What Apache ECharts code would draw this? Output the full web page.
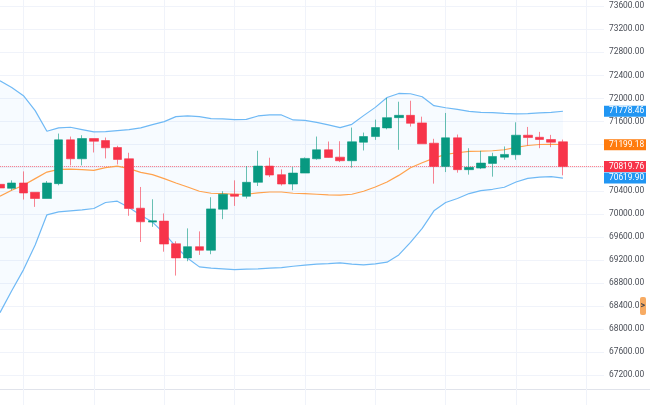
<!DOCTYPE html>
<html>
<head>
<meta charset="utf-8">
<style>
    html, body { margin: 0; padding: 0; background: #fff; }
    #chart { width: 650px; height: 405px; }
</style>
<script src="https://cdn.jsdelivr.net/npm/echarts@6/dist/echarts.min.js"></script>
</head>
<body>
<div id="chart"></div>
<script>
// [open, close, low, high]
var candles = [
    [70512, 70448, 70374, 70702], [70443, 70535, 70409, 70581], [70535, 70362, 70248, 70736],
    [70374, 70266, 70121, 70374], [70266, 70535, 70266, 70569], [70524, 71283, 70495, 71392],
    [71283, 70955, 70840, 71340], [70955, 71306, 70840, 71363], [71306, 71259, 71064, 71306],
    [71271, 71145, 70961, 71323], [71150, 70943, 70857, 71180], [70955, 70093, 69966, 71059],
    [70098, 69862, 69512, 70466], [69857, 69879, 69775, 70253], [69874, 69477, 69344, 70007],
    [69482, 69236, 68930, 69524], [69236, 69431, 69179, 69748], [69431, 69369, 69288, 69696],
    [69369, 70086, 69300, 70288], [70081, 70340, 69908, 70392], [70340, 70305, 70138, 70581],
    [70305, 70547, 70266, 70828], [70547, 70828, 70483, 71094], [70828, 70673, 70638, 70973],
    [70680, 70517, 70490, 70771], [70517, 70707, 70409, 70811], [70707, 70961, 70707, 70978],
    [70955, 71111, 70938, 71340], [71111, 70978, 70973, 71254], [70983, 70921, 70897, 71259],
    [70921, 71249, 70800, 71496], [71242, 71340, 71099, 71409], [71340, 71496, 71283, 71634],
    [71490, 71668, 71466, 72008], [71668, 71708, 71111, 71944], [71708, 71570, 71513, 71961],
    [71577, 71214, 71214, 71685], [71225, 70823, 70524, 71301], [70823, 71318, 70724, 71749],
    [71318, 70766, 70714, 71375], [70766, 70806, 70680, 71138], [70794, 70880, 70776, 71094],
    [70875, 70995, 70645, 71059], [70983, 71030, 70938, 71168], [71025, 71363, 70938, 71587],
    [71363, 71323, 71185, 71507], [71328, 71289, 71138, 71421], [71289, 71242, 71156, 71369],
    [71249, 70819.76, 70668, 71288]
];
var upperBand = [
    72306, 72191, 72048, 71789, 71432, 71490, 71501, 71461, 71421, 71426,
    71444, 71461, 71490, 71547, 71599, 71685, 71697, 71685, 71651, 71646,
    71634, 71639, 71697, 71715, 71715, 71628, 71621, 71587, 71542, 71496,
    71552, 71703, 71846, 72018, 72087, 72082, 72030, 71875, 71840, 71811,
    71777, 71759, 71754, 71742, 71732, 71737, 71749, 71759, 71778.46
];
var middleBand = [
    70305, 70409, 70495, 70611, 70724, 70771, 70776, 70766, 70754, 70800,
    70828, 70783, 70719, 70680, 70611, 70535, 70466, 70392, 70357, 70352,
    70340, 70340, 70362, 70379, 70379, 70357, 70352, 70340, 70328, 70323,
    70340, 70392, 70466, 70552, 70667, 70800, 70887, 70966, 71030, 71059,
    71082, 71087, 71094, 71111, 71151, 71185, 71202, 71207, 71199.18
];
var lowerBand = [
    68287, 68667, 69029, 69460, 69983, 70034, 70052, 70069, 70093, 70197,
    70219, 70110, 69977, 69857, 69662, 69431, 69231, 69081, 69058, 69046,
    69034, 69041, 69046, 69058, 69068, 69092, 69110, 69127, 69137, 69149,
    69127, 69115, 69132, 69162, 69288, 69506, 69748, 70052, 70197, 70266,
    70352, 70404, 70426, 70461, 70552, 70616, 70638, 70645, 70619.90
];
var yTicks = [
    67200, 67600, 68000, 68400, 68800, 69200, 69600, 70000, 70400, 70800, 71200,
    71600, 72000, 72400, 72800, 73200, 73600
];
var lastPrice = 70819.76;
var categories = [];
for (var i = 0; i < 52; i++) {
    categories.push(String(i));
}

var bandWidth = candles.map(function(c, i) {
    return upperBand[i] - lowerBand[i];
});

var green = '#089981';
var red = '#f7344a';
var blue = '#2196f3';
var orange = '#ff7b0d';

function priceTag(value, color) {
    return {
        yAxis: value,
        lineStyle: { width: 1, color: 'rgba(0,0,0,0)' },
        label: {
            show: true,
            position: 'end',
            distance: 0,
            formatter: value.toFixed(2),
            color: '#fff',
            backgroundColor: color,
            fontFamily: 'Roboto',
            fontSize: 8.4,
            align: 'left',
            verticalAlign: 'middle',
            width: 37,
            height: 11,
            lineHeight: 11,
            padding: [0, 0, 0, 5]
        }
    };
}

var option = {
    animation: false,
    backgroundColor: '#fff',
    // grid runs past the canvas so the vertical lines reach both edges
    grid: { left: -5.87, right: 46, top: -16.87, bottom: -16.5, outerBoundsMode: 'none' },
    xAxis: {
        type: 'category',
        data: categories,
        axisLine: { show: false },
        axisTick: { show: false },
        axisLabel: { show: false },
        splitLine: {
            show: true,
            alignWithLabel: true,
            interval: function(index) { return index % 6 === 2; },
            lineStyle: { color: '#f0f3fa', width: 1 }
        }
    },
    yAxis: {
        type: 'value',
        position: 'right',
        min: 66400,
        max: 74000,
        interval: 400,
        axisLine: { show: false },
        axisTick: { show: false, customValues: yTicks },
        axisLabel: {
            customValues: yTicks,
            margin: 5,
            color: '#4a4e57',
            fontFamily: 'Roboto',
            fontSize: 8.4,
            formatter: function(v) { return v.toFixed(2); }
        },
        splitLine: { show: true, lineStyle: { color: '#f0f3fa', width: 1 } }
    },
    series: [
        {
            name: 'base',
            type: 'line',
            data: lowerBand,
            stack: 'band',
            showSymbol: false,
            lineStyle: { opacity: 0 },
            z: 1
        },
        {
            name: 'fill',
            type: 'line',
            data: bandWidth,
            stack: 'band',
            showSymbol: false,
            lineStyle: { opacity: 0 },
            areaStyle: { color: 'rgba(33,150,243,0.05)' },
            z: 1
        },
        {
            name: 'upper',
            type: 'line',
            data: upperBand,
            showSymbol: false,
            lineStyle: { color: '#6fb9f5', width: 1.2 },
            z: 2,
            markLine: {
                silent: true,
                symbol: 'none',
                data: [priceTag(upperBand[upperBand.length - 1], blue)]
            }
        },
        {
            name: 'lower',
            type: 'line',
            data: lowerBand,
            showSymbol: false,
            lineStyle: { color: '#6fb9f5', width: 1.2 },
            z: 2,
            markLine: {
                silent: true,
                symbol: 'none',
                data: [priceTag(lowerBand[lowerBand.length - 1], blue)]
            }
        },
        {
            name: 'middle',
            type: 'line',
            data: middleBand,
            showSymbol: false,
            lineStyle: { color: '#ffa24d', width: 1.2 },
            z: 2,
            markLine: {
                silent: true,
                symbol: 'none',
                data: [priceTag(middleBand[middleBand.length - 1], orange)]
            }
        },
        {
            name: 'price',
            type: 'candlestick',
            data: candles,
            barWidth: 9,
            z: 3,
            itemStyle: {
                color: green,
                color0: red,
                borderColor: 'rgba(8,153,129,0.6)',
                borderColor0: 'rgba(247,52,74,0.6)',
                borderWidth: 1
            },
            markLine: {
                silent: true,
                symbol: 'none',
                z: 1,
                data: [(function() {
                    var tag = priceTag(lastPrice, red);
                    tag.lineStyle = { color: 'rgba(247,52,74,0.7)', type: 'dotted', width: 1 };
                    return tag;
                })()]
            }
        }
    ],
    graphic: [
        {
            type: 'line',
            silent: true,
            shape: { x1: 0, y1: 389.5, x2: 650, y2: 389.5 },
            style: { stroke: '#e0e3eb', lineWidth: 1 }
        },
        {
            type: 'rect',
            silent: true,
            shape: { x: 640, y: 297, width: 6, height: 18, r: 2 },
            style: { fill: '#f7ab63' },
            z: 50
        },
        {
            type: 'text',
            silent: true,
            x: 640.5,
            y: 301,
            style: { text: '>', fill: '#40444d', font: 'bold 9px Roboto' },
            z: 51
        }
    ]
};

var myChart = echarts.init(document.getElementById('chart'));
myChart.setOption(option);
</script>
</body>
</html>
